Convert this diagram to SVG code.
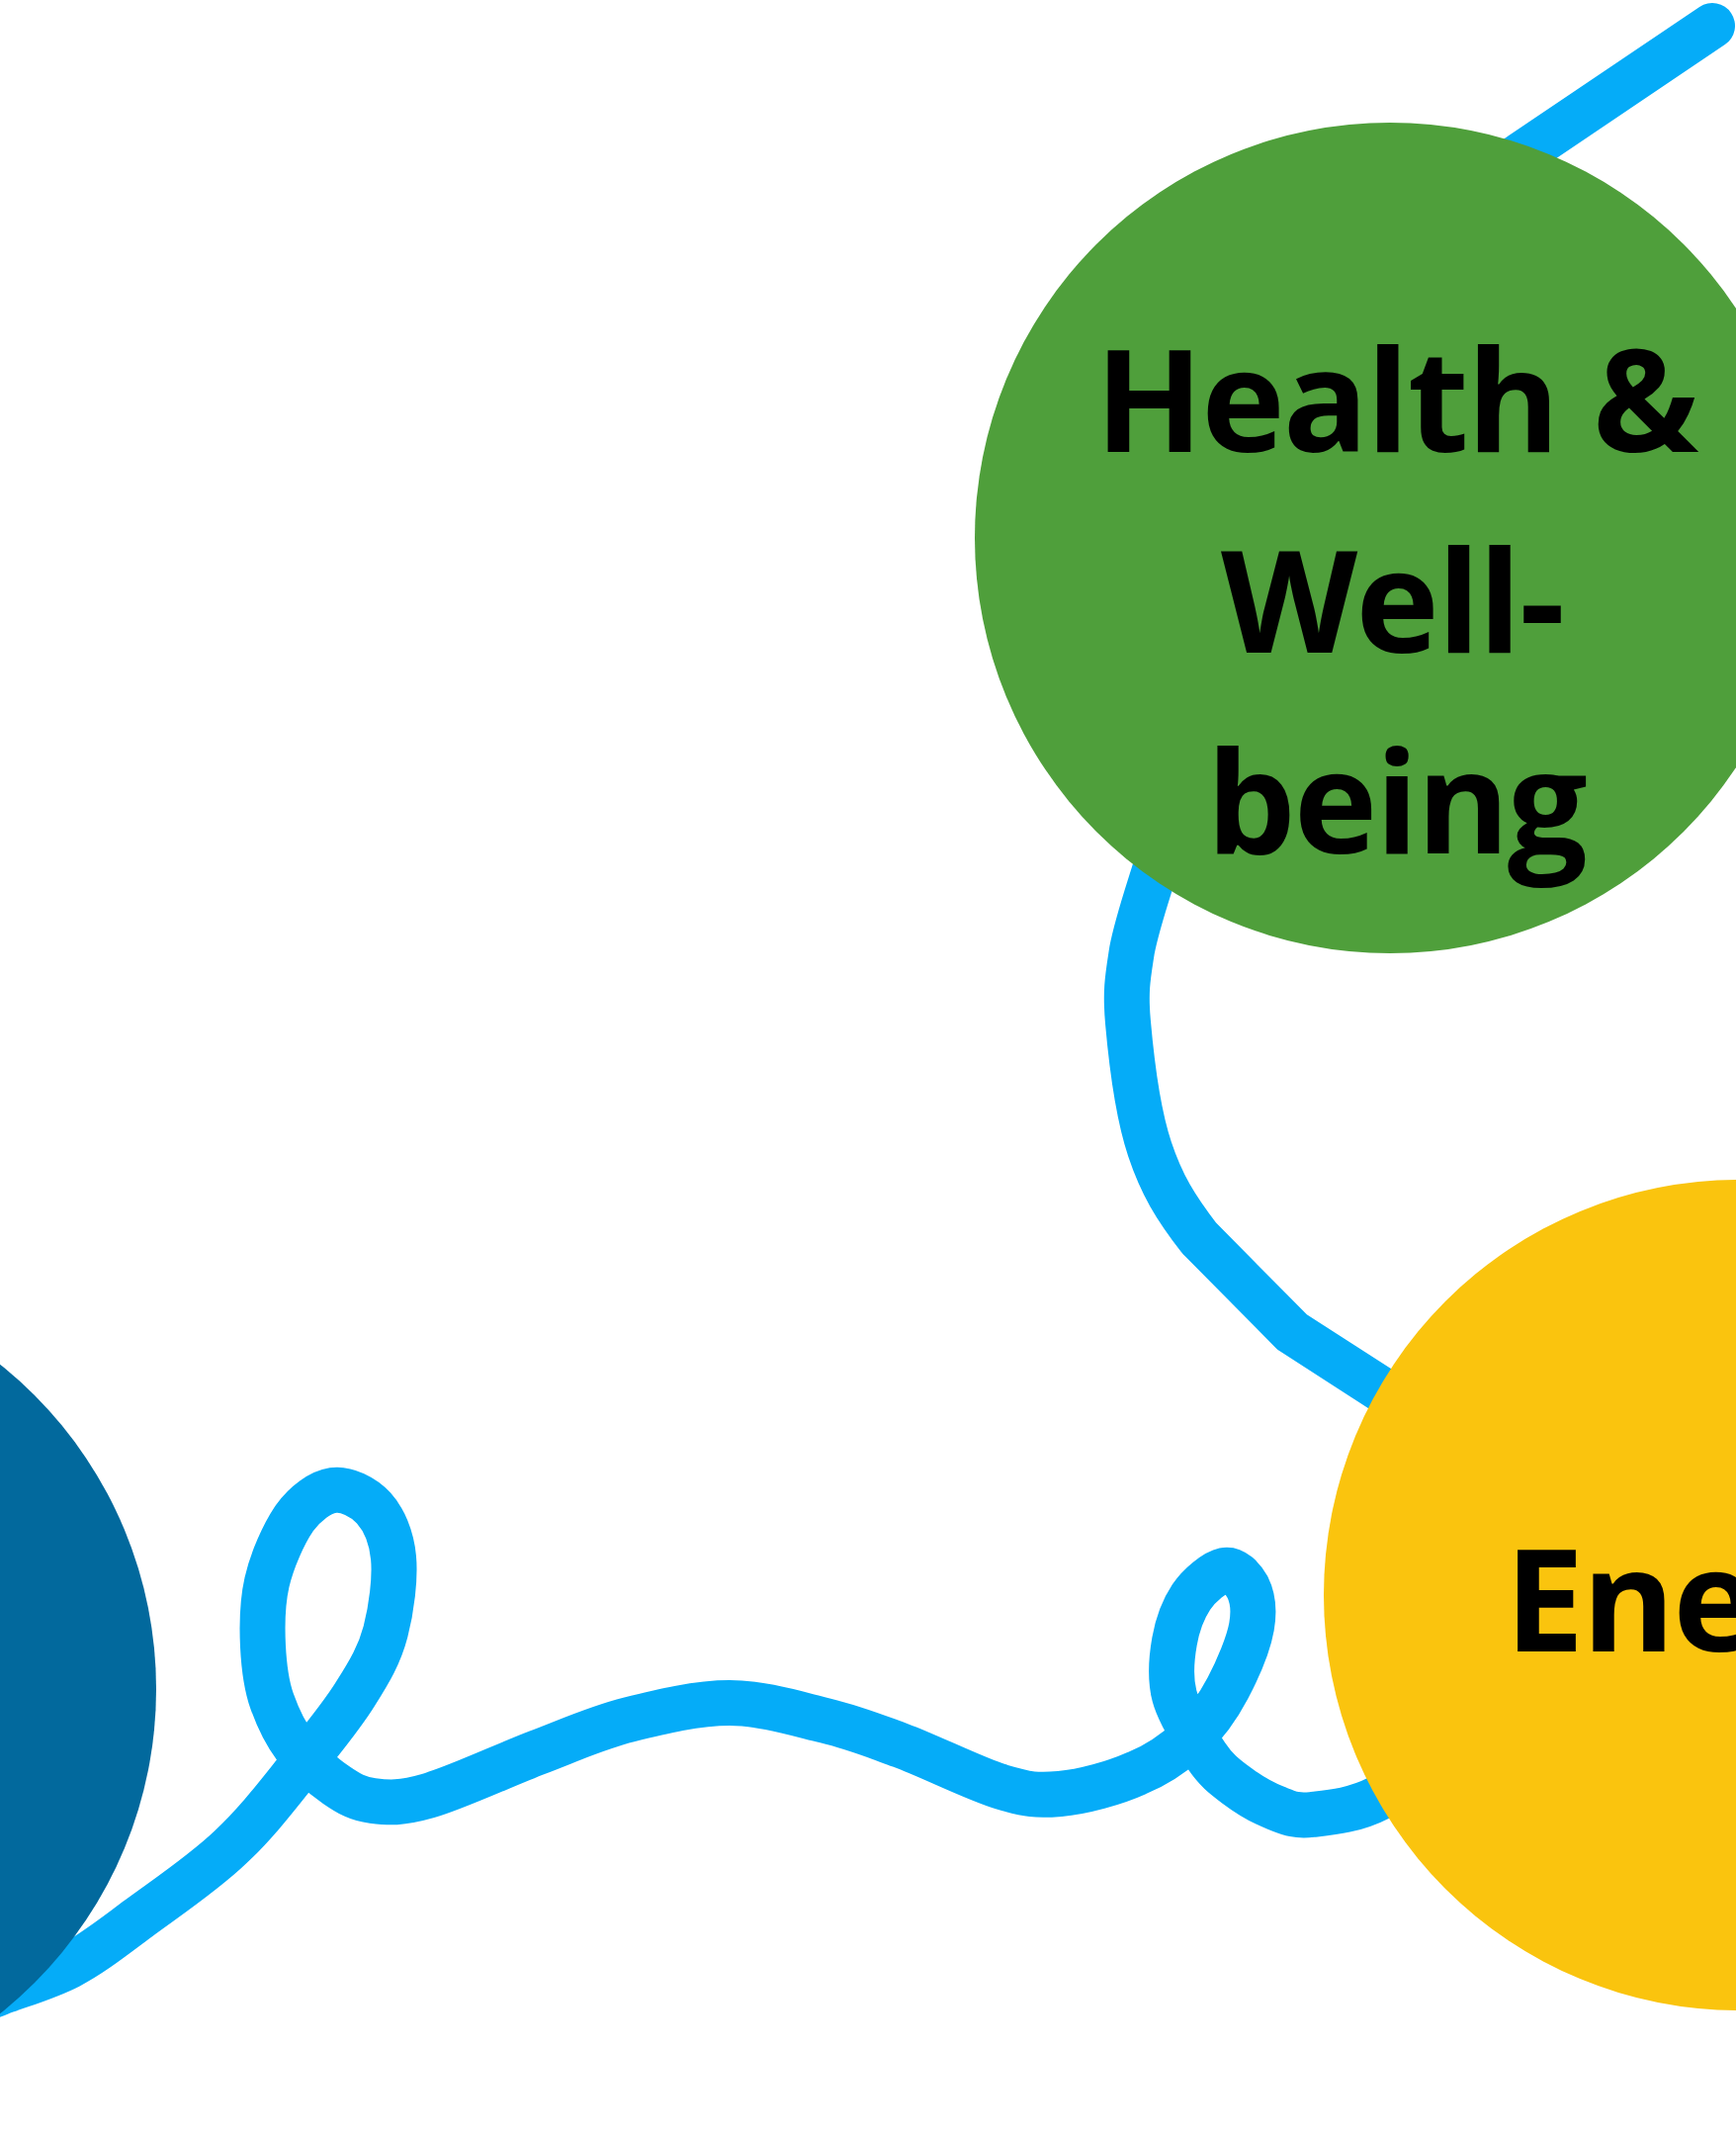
<svg xmlns="http://www.w3.org/2000/svg" width="1756" height="2160" viewBox="0 0 1756 2160">
<style>
.bg{fill:#ffffff}
.conn{fill:none;stroke:#05acf8;stroke-width:46;stroke-linecap:round;stroke-linejoin:round}
.label{font-family:"Open Sans","Noto Sans","Liberation Sans",sans-serif;font-weight:700;font-size:143px;fill:#000000;text-anchor:middle;letter-spacing:-2px}
.green{fill:#4f9f3b}
.yellow{fill:#fac40e}
.navy{fill:#02699d}
</style>
<rect class="bg" x="0" y="0" width="1756" height="2160"/>
<g id="connectors">
<path class="conn" d="M -40 2030 C -33 2028 -18 2022 0 2015 C 18 2008 47 2000 70 1988 C 93 1976 113 1960 140 1940 C 167 1920 206 1894 233 1868 C 261 1842 284 1811 305 1785 C 326 1759 346 1735 360 1712 C 374 1690 384 1673 390 1650 C 396 1627 400 1596 398 1575 C 396 1554 388 1536 378 1525 C 368 1514 350 1505 337 1507 C 324 1509 309 1520 298 1535 C 287 1551 275 1578 270 1600 C 265 1622 265 1645 266 1665 C 267 1685 269 1703 275 1720 C 281 1737 289 1754 300 1768 C 311 1782 327 1796 340 1805 C 353 1814 362 1819 377 1821 C 393 1823 405 1824 433 1816 C 461 1808 510 1785 544 1772 C 578 1759 604 1747 636 1739 C 668 1731 705 1722 738 1722 C 771 1722 806 1733 835 1740 C 864 1747 881 1754 911 1765 C 941 1776 986 1799 1013 1807 C 1040 1815 1049 1816 1072 1814 C 1095 1812 1128 1803 1150 1793 C 1172 1784 1190 1771 1205 1757 C 1220 1743 1232 1726 1242 1707 C 1252 1688 1263 1662 1266 1645 C 1269 1628 1267 1615 1262 1605 C 1257 1596 1248 1586 1238 1588 C 1229 1590 1213 1603 1205 1615 C 1197 1627 1191 1643 1188 1660 C 1185 1677 1183 1696 1188 1715 C 1193 1734 1210 1760 1220 1775 C 1230 1790 1238 1796 1250 1805 C 1262 1814 1277 1823 1290 1828 C 1303 1833 1310 1837 1327 1835 C 1345 1833 1370 1831 1395 1818 C 1460 1790 1530 1720 1530 1610 C 1530 1500 1450 1440 1397 1405 L 1307 1347 L 1213 1252 C 1189 1221 1175 1198 1163 1162 C 1151 1126 1144 1068 1141 1034 C 1138 1001 1141 987 1145 961 C 1150 935 1159 909 1168 880 L 1300 600 L 1480 196 L 1732 26"/>
</g>
<g id="node-left">
<circle class="navy" cx="-262" cy="1708" r="420"/>
</g>
<g id="node-wellbeing">
<circle class="green" cx="1406" cy="544" r="420"/>
<text class="label" x="1412" y="457">Health &amp;</text>
<text class="label" x="1408" y="660">Well-</text>
<text class="label" x="1412" y="863">being</text>
</g>
<g id="node-energy">
<circle class="yellow" cx="1759" cy="1613" r="420"/>
<text class="label" x="1759" y="1670">Energy</text>
</g>
</svg>
